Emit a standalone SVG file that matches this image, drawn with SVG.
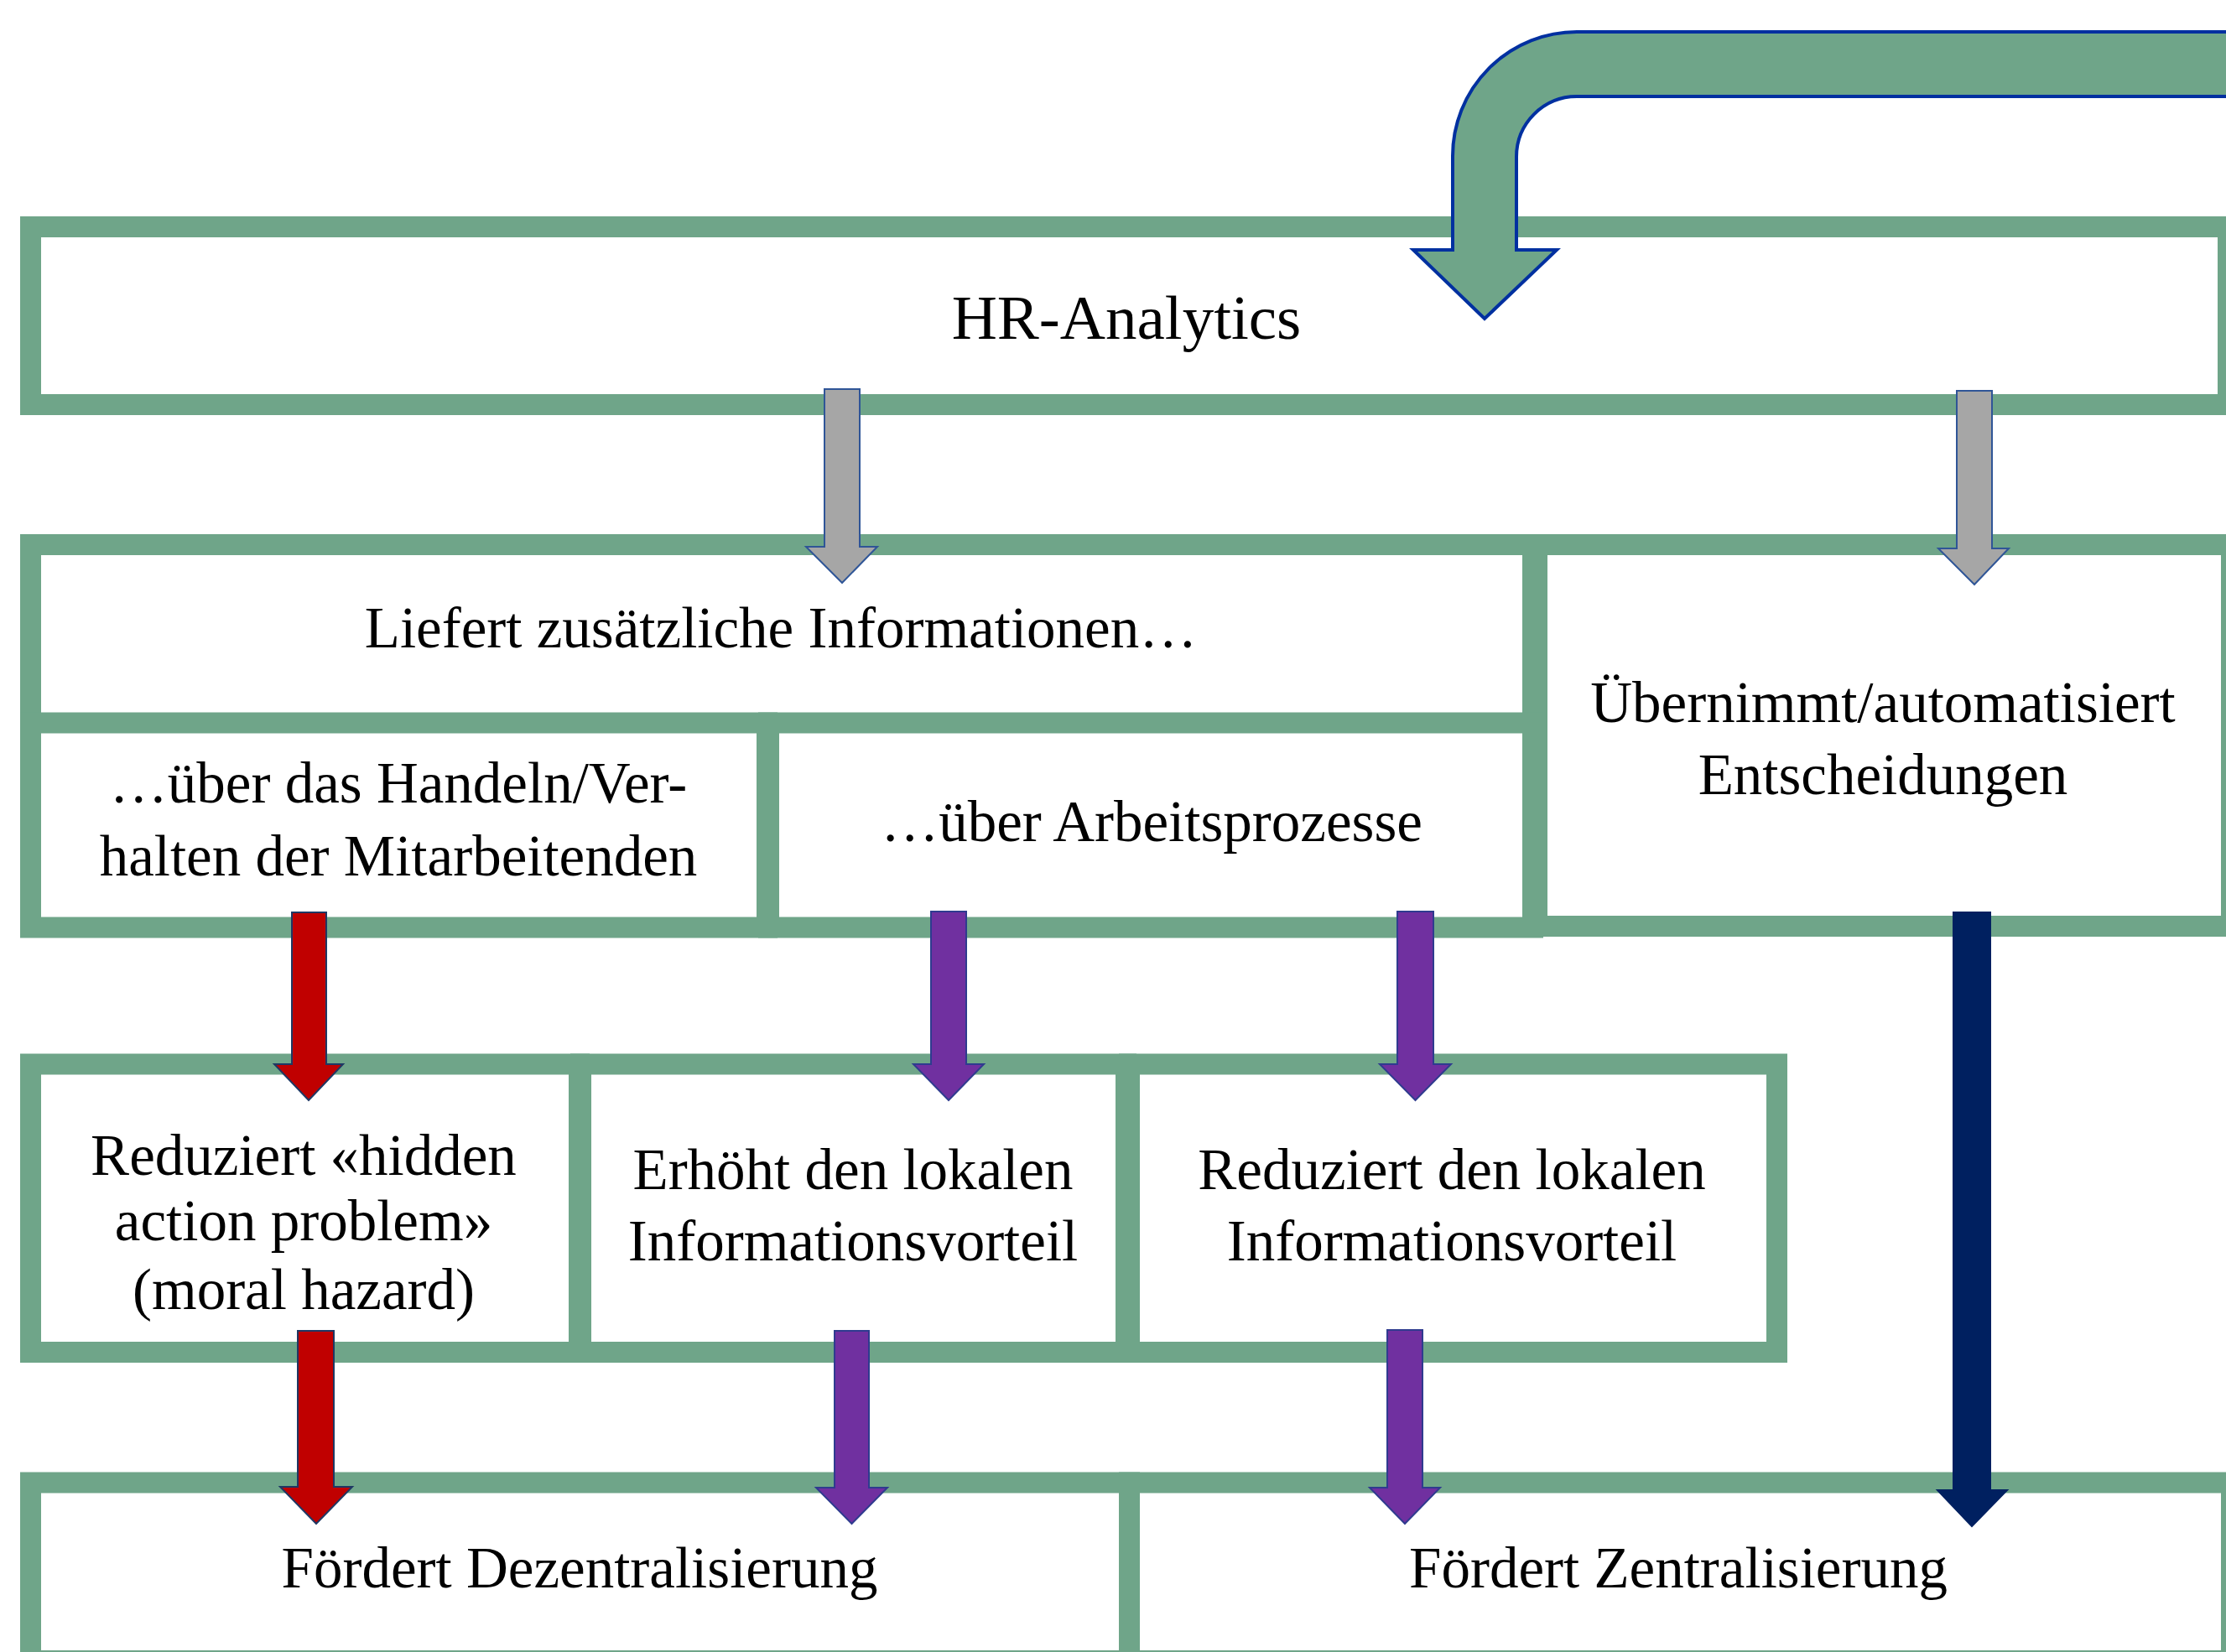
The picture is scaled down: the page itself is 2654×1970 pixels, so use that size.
<svg xmlns="http://www.w3.org/2000/svg" width="2654" height="1970" viewBox="0 0 2654 1970">
<style>
.box{fill:#FFFFFF;stroke:#6FA589;stroke-width:25}
.t{font-family:"Liberation Serif","Times New Roman",serif;font-size:69px;fill:#000;text-anchor:middle}
.gray{fill:#A6A6A6;stroke:#2F5597;stroke-width:2}
.red{fill:#C00000;stroke:#1F3864;stroke-width:2}
.purple{fill:#7030A0;stroke:#2F3B8F;stroke-width:2}
.navy{fill:#002060;stroke:#002060;stroke-width:2}
.loop{fill:#6FA589;stroke:#0030A0;stroke-width:4;stroke-linejoin:miter}
</style>
<rect width="2654" height="1970" fill="#FFFFFF"/>
<g id="hr-analytics">
<rect class="box" x="36.5" y="270.5" width="2620" height="212"/>
<text class="t" x="1343" y="404" style="font-size:75px">HR-Analytics</text>
</g>
<g id="liefert">
<rect class="box" x="36.5" y="649.5" width="1791" height="213"/>
<text class="t" x="931" y="772">Liefert zusätzliche Informationen…</text>
</g>
<g id="uebernimmt">
<rect class="box" x="1832.5" y="649.5" width="828" height="455"/>
<text class="t" x="2245" y="861">Übernimmt/automatisiert</text>
<text class="t" x="2245" y="947">Entscheidungen</text>
</g>
<g id="handeln">
<rect class="box" x="36.5" y="862" width="878" height="244"/>
<text class="t" x="475" y="957">…über das Handeln/Ver-</text>
<text class="t" x="475" y="1044">halten der Mitarbeitenden</text>
</g>
<g id="arbeitsprozesse">
<rect class="box" x="916.5" y="862" width="911" height="244"/>
<text class="t" x="1373" y="1003">…über Arbeitsprozesse</text>
</g>
<g id="hidden-action">
<rect class="box" x="36.5" y="1269" width="654" height="343.5"/>
<text class="t" x="362" y="1401">Reduziert «hidden</text>
<text class="t" x="362" y="1479">action problem»</text>
<text class="t" x="362" y="1561">(moral hazard)</text>
</g>
<g id="erhoeht">
<rect class="box" x="692.5" y="1269" width="650" height="343.5"/>
<text class="t" x="1017" y="1418">Erhöht den lokalen</text>
<text class="t" x="1017" y="1503">Informationsvorteil</text>
</g>
<g id="reduziert-lokal">
<rect class="box" x="1346.5" y="1269" width="772" height="343.5"/>
<text class="t" x="1731" y="1418">Reduziert den lokalen</text>
<text class="t" x="1731" y="1503">Informationsvorteil</text>
</g>
<g id="dezentralisierung">
<rect class="box" x="36.5" y="1768" width="1310" height="212.5"/>
<text class="t" x="691" y="1893">Fördert Dezentralisierung</text>
</g>
<g id="zentralisierung">
<rect class="box" x="1346.5" y="1768" width="1314" height="212.5"/>
<text class="t" x="2001" y="1893">Fördert Zentralisierung</text>
</g>
<g id="connectors">
<path class="loop" d="M2670 38 H1880 A148 148 0 0 0 1732 186 V298 H1685 L1770 380 L1856 298 H1808 V187 A72 72 0 0 1 1880 115 H2670 Z"/>
<path class="gray" d="M983 464 H1025 V652 H1046 L1004 695 L961 652 H983 Z"/>
<path class="gray" d="M2333 466 H2375 V654 H2395 L2354 697 L2311 654 H2333 Z"/>
<path class="red" d="M348 1088 H389 V1269 H409 L368 1312 L327 1269 H348 Z"/>
<path class="purple" d="M1110 1087 H1152 V1269 H1173 L1131 1312 L1089 1269 H1110 Z"/>
<path class="purple" d="M1666 1087 H1709 V1269 H1730 L1687.5 1312 L1645 1269 H1666 Z"/>
<path class="red" d="M355 1587 H398 V1773 H420 L377 1817 L334 1773 H355 Z"/>
<path class="purple" d="M995 1587 H1036 V1774 H1058 L1015.5 1817 L973 1774 H995 Z"/>
<path class="purple" d="M1654 1586 H1696 V1774 H1717 L1675 1817 L1633 1774 H1654 Z"/>
<path class="navy" d="M2329 1088 H2373 V1777 H2393 L2351 1820 L2310 1777 H2329 Z"/>
</g>
</svg>
